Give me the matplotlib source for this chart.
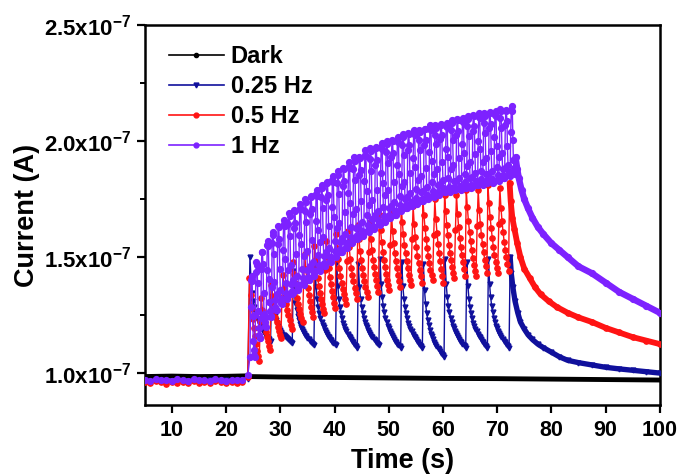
import numpy as np
import matplotlib
matplotlib.use('Agg')
import matplotlib.pyplot as plt
from matplotlib.lines import Line2D
from matplotlib.ticker import FuncFormatter, MultipleLocator

plt.rcParams['font.family'] = ['Liberation Sans', 'DejaVu Sans']
plt.rcParams['font.weight'] = 'bold'
plt.rcParams['mathtext.fontset'] = 'custom'
plt.rcParams['mathtext.rm'] = 'Liberation Sans:bold'
plt.rcParams['mathtext.bf'] = 'Liberation Sans:bold'

SCALE = 1e-7   # values below are in units of 1e-7 A

# ---- dark current ----
dark_t = [5, 10, 15, 20, 23.8, 24.2, 30, 40, 50, 60, 70, 80, 90, 100]
dark_v = [0.985, 0.987, 0.985, 0.986, 0.988, 0.985, 0.983, 0.981, 0.979, 0.977, 0.976, 0.974, 0.972, 0.970]

# ---- before light on (t = 5 ... 24 s, 1 s apart) ----
pre_t = list(range(5, 25))
blue_pre = [0.968, 0.962, 0.970, 0.965, 0.960, 0.967, 0.971, 0.963, 0.966, 0.969,
            0.961, 0.967, 0.970, 0.964, 0.962, 0.968, 0.965, 0.970, 0.966, 0.975]
red_pre = [0.962, 0.957, 0.965, 0.960, 0.955, 0.963, 0.958, 0.961, 0.956, 0.964,
           0.959, 0.962, 0.957, 0.965, 0.960, 0.956, 0.963, 0.958, 0.962, 0.985]
purple_pre = [0.972, 0.966, 0.975, 0.968, 0.970, 0.964, 0.973, 0.969, 0.966, 0.974,
              0.968, 0.971, 0.965, 0.973, 0.969, 0.967, 0.972, 0.968, 0.971, 0.990]

# ---- 0.25 Hz : pulses every 4 s from 24.4 s ----
blue_start, blue_period, blue_dt = 24.4, 4.0, 0.2
blue_peaks = [1.50, 1.38, 1.44, 1.47, 1.48, 1.47, 1.49, 1.48, 1.47, 1.49, 1.48, 1.49]
blue_troughs = [1.14, 1.13, 1.12, 1.12, 1.11, 1.12, 1.11, 1.11, 1.07, 1.11, 1.11, 1.11]
blue_shapes = [[1.0, 0.72, 0.57, 0.47, 0.40, 0.34, 0.29, 0.25, 0.22, 0.19,
                0.16, 0.14, 0.12, 0.10, 0.08, 0.06, 0.045, 0.03, 0.015, 0.0]]
blue_tail_t = [72.4, 72.6, 72.9, 73.3, 73.8, 74.3, 75, 75.7, 76.5, 77.5, 78.5, 80,
               81.5, 83, 85, 87.5, 90, 92.5, 95, 97.5, 100]
blue_tail_v = [1.50, 1.43, 1.37, 1.31, 1.26, 1.22, 1.19, 1.165, 1.145, 1.125, 1.11, 1.09,
               1.07, 1.055, 1.045, 1.035, 1.025, 1.018, 1.012, 1.006, 1.00]

# ---- 0.5 Hz : pulses every 2 s from 24.3 s ----
red_start, red_period, red_dt = 24.3, 2.0, 0.2
red_peaks = [1.41, 1.33, 1.38, 1.43, 1.48, 1.52, 1.55, 1.58, 1.60, 1.62, 1.64, 1.66,
             1.68, 1.70, 1.72, 1.73, 1.75, 1.76, 1.77, 1.78, 1.79, 1.80, 1.81, 1.81]
red_troughs = [1.05, 1.10, 1.15, 1.19, 1.22, 1.24, 1.26, 1.28, 1.30, 1.32, 1.33, 1.35,
               1.36, 1.37, 1.38, 1.39, 1.40, 1.39, 1.41, 1.42, 1.42, 1.43, 1.43, 1.44]
red_shapes = [[1.0, 0.80, 0.64, 0.51, 0.40, 0.30, 0.21, 0.13, 0.06, 0.0],
              [0.55, 0.97, 0.74, 0.58, 0.45, 0.34, 0.25, 0.16, 0.08, 0.0]]
red_tail_t = [72.3, 72.5, 72.8, 73.2, 73.7, 74.3, 75, 76, 77, 78, 79.5, 81, 83, 85,
              87.5, 90, 92.5, 95, 97.5, 100]
red_tail_v = [1.82, 1.74, 1.67, 1.62, 1.56, 1.50, 1.45, 1.41, 1.37, 1.34, 1.31, 1.285,
              1.26, 1.24, 1.22, 1.195, 1.175, 1.155, 1.14, 1.125]

# ---- 1 Hz : pulses every 1 s from 24.4 s ----
purple_start, purple_period, purple_dt = 24.4, 1.0, 0.1
purple_peaks = [1.42, 1.48, 1.53, 1.57, 1.61, 1.64, 1.66, 1.69, 1.71, 1.73, 1.75, 1.77,
                1.79, 1.81, 1.83, 1.85, 1.87, 1.89, 1.91, 1.93, 1.94, 1.96, 1.97, 1.98,
                1.99, 2.00, 2.01, 2.02, 2.03, 2.04, 2.05, 2.05, 2.06, 2.07, 2.07, 2.08,
                2.08, 2.09, 2.10, 2.10, 2.11, 2.12, 2.12, 2.12, 2.13, 2.13, 2.14, 2.14, 2.15]
purple_troughs = [1.07, 1.15, 1.20, 1.24, 1.27, 1.30, 1.32, 1.34, 1.36, 1.38, 1.40, 1.42,
                  1.44, 1.46, 1.48, 1.50, 1.52, 1.54, 1.56, 1.58, 1.59, 1.61, 1.62, 1.64,
                  1.65, 1.67, 1.68, 1.70, 1.71, 1.72, 1.73, 1.74, 1.75, 1.76, 1.77, 1.78,
                  1.78, 1.79, 1.79, 1.80, 1.80, 1.81, 1.81, 1.82, 1.82, 1.83, 1.84, 1.85, 1.86]
purple_shapes = [[0.0, 0.62, 0.95, 1.0, 0.93, 0.50, 0.20, 0.08, 0.02, 0.0],
                 [0.30, 0.86, 1.0, 0.96, 0.72, 0.36, 0.13, 0.04, 0.0, 0.01],
                 [0.12, 0.76, 0.98, 0.97, 0.82, 0.44, 0.17, 0.06, 0.01, 0.0]]
purple_tail_t = [73.4, 73.7, 74.0, 74.5, 75.0, 75.7, 76.5, 77.5, 78.5, 80, 81.5, 83, 85,
                 87.5, 90, 92.5, 95, 97.5, 100]
purple_tail_v = [1.93, 1.88, 1.84, 1.79, 1.75, 1.71, 1.67, 1.63, 1.60, 1.56, 1.53, 1.50,
                 1.46, 1.43, 1.39, 1.35, 1.32, 1.29, 1.26]


def build(pre_v, start, period, dt, peaks, troughs, shapes, tail_t, tail_v):
    t = list(pre_t)
    v = list(pre_v)
    for i, (pk, tr) in enumerate(zip(peaks, troughs)):
        t0 = start + i * period
        shape = shapes[i % len(shapes)]
        for k, s in enumerate(shape):
            t.append(t0 + k * dt)
            v.append(tr + (pk - tr) * s)
    t += tail_t
    v += tail_v
    return np.array(t), np.array(v) * SCALE


fig = plt.figure(figsize=(6.83, 4.76), dpi=100)
ax = fig.add_axes([0.212, 0.149, 0.754, 0.798])

ax.plot(dark_t, np.array(dark_v) * SCALE, '-', color='black', lw=3.5, zorder=2)

series = [
    ('0.25 Hz', '#10109c', 'v', 3.5, blue_pre, blue_start, blue_period, blue_dt,
     blue_peaks, blue_troughs, blue_shapes, blue_tail_t, blue_tail_v),
    ('0.5 Hz', '#ff1414', 'o', 3.8, red_pre, red_start, red_period, red_dt,
     red_peaks, red_troughs, red_shapes, red_tail_t, red_tail_v),
    ('1 Hz', '#7d22ff', 'o', 4.2, purple_pre, purple_start, purple_period, purple_dt,
     purple_peaks, purple_troughs, purple_shapes, purple_tail_t, purple_tail_v),
]

handles = [Line2D([], [], color='black', lw=1.2, marker='o', ms=3)]
labels = ['Dark']
for z, (lab, col, mk, ms, pre_v, st, per, dt, pks, trs, shp, tt, tv) in enumerate(series):
    t, v = build(pre_v, st, per, dt, pks, trs, shp, tt, tv)
    ax.plot(t, v, '-', color=col, lw=1.0, marker=mk, ms=ms, zorder=3 + z)
    ax.plot(tt, np.array(tv) * SCALE, '-', color=col, lw=ms * 1.1, zorder=3 + z,
            solid_capstyle='round')
    handles.append(Line2D([], [], color=col, lw=1.2, marker=mk, ms=3.5))
    labels.append(lab)

ax.set_xlim(5, 100)
ax.set_ylim(0.862e-7, 2.5e-7)
ax.xaxis.set_major_locator(MultipleLocator(10))
ax.yaxis.set_major_locator(MultipleLocator(0.5e-7))
ax.yaxis.set_minor_locator(MultipleLocator(0.25e-7))
ax.yaxis.set_major_formatter(FuncFormatter(
    lambda y, p: r'%.1fx10$^{\mathbf{-7}}$' % (y / 1e-7)))

ax.tick_params(axis='both', which='major', direction='out', length=6, width=1.6,
               labelsize=15.5)
ax.tick_params(axis='y', which='major', labelsize=16)
ax.tick_params(axis='x', which='major', pad=5)
ax.tick_params(axis='y', which='minor', direction='out', length=3.5, width=1.4)
for s in ax.spines.values():
    s.set_linewidth(1.8)
for lb in ax.get_xticklabels() + ax.get_yticklabels():
    lb.set_fontweight('bold')

ax.set_xlabel('Time (s)', fontsize=19.5, fontweight='bold', labelpad=5)
ax.set_ylabel('Current (A)', fontsize=19.5, fontweight='bold', labelpad=3)

ax.legend(handles, labels, loc='upper left', bbox_to_anchor=(0.02, 0.985), frameon=False,
          prop={'size': 17, 'weight': 'bold'}, handlelength=2.3, handletextpad=0.3,
          labelspacing=0.3, borderaxespad=0.2)

fig.savefig('out.png', dpi=100)
